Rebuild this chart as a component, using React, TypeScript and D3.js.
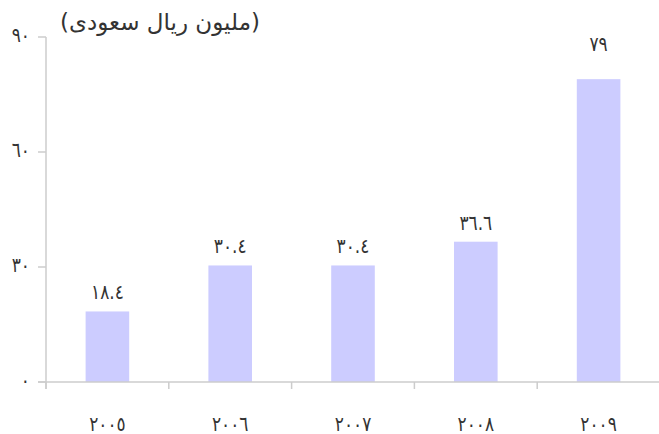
import React from "react";
import * as d3 from "d3";

const years = ["٢٠٠٥", "٢٠٠٦", "٢٠٠٧", "٢٠٠٨", "٢٠٠٩"];
const values = [18.4, 30.4, 30.4, 36.6, 79];
const valueLabels = ["١٨.٤", "٣٠.٤", "٣٠.٤", "٣٦.٦", "٧٩"];
const yTicks = [0, 30, 60, 90];
const yTickLabels = ["٠", "٣٠", "٦٠", "٩٠"];
const unitTitle = "(مليون ريال سعودى)";

const W = 659;
const H = 434;
const left = 46;
const right = 660;
const top = 37;
const bottom = 382;
const FONT = "'DejaVu Sans', sans-serif";
const AXIS = "#cccccc";
const TEXT = "#333333";
const SY = 1.2;

function Label({ x, y, anchor, size, children }: any) {
  return (
    <text
      transform={`translate(${x},${y}) scale(1,${SY})`}
      textAnchor={anchor}
      fontFamily={FONT}
      fontSize={size}
      fill={TEXT}
    >
      {children}
    </text>
  );
}

export default function App() {
  const x = d3.scaleBand<string>().domain(years).range([left, right]).padding(0);
  const y = d3.scaleLinear().domain([0, 90]).range([bottom, top]);
  const bw = x.bandwidth() * 0.355;
  const boundaries = years.map((yr) => x(yr) as number);

  return (
    <svg width={W} height={H} style={{ position: "absolute", left: 0, top: 0 }}>
      <rect width={W} height={H} fill="#ffffff" />
      <text x={60} y={30} fontFamily={FONT} fontSize={23} fill={TEXT} direction="ltr">
        {unitTitle}
      </text>
      {values.map((v, i) => (
        <rect
          key={i}
          x={(x(years[i]) as number) + x.bandwidth() / 2 - bw / 2}
          y={y(v)}
          width={bw}
          height={y(0) - y(v)}
          fill="#ccccff"
        />
      ))}
      {values.map((v, i) => (
        <Label
          key={"l" + i}
          x={(x(years[i]) as number) + x.bandwidth() / 2}
          y={y(v) - (i === values.length - 1 ? 28 : 12)}
          anchor="middle"
          size={17}
        >
          {valueLabels[i]}
        </Label>
      ))}
      <line x1={left} x2={left} y1={top} y2={bottom + 7} stroke={AXIS} strokeWidth={1.5} />
      <line x1={38} x2={W} y1={y(0)} y2={y(0)} stroke={AXIS} strokeWidth={1.5} />
      {yTicks.map((t, i) => (
        <g key={"yt" + i}>
          <line x1={38} x2={left} y1={y(t)} y2={y(t)} stroke={AXIS} strokeWidth={1.5} />
          <Label x={30} y={y(t) + 5} anchor="end" size={17}>
            {yTickLabels[i]}
          </Label>
        </g>
      ))}
      {boundaries.map((b, i) => (
        <line key={"xt" + i} x1={b} x2={b} y1={bottom} y2={bottom + 7} stroke={AXIS} strokeWidth={1.5} />
      ))}
      {years.map((yr, i) => (
        <Label key={"xl" + i} x={(x(yr) as number) + x.bandwidth() / 2} y={431} anchor="middle" size={17}>
          {yr}
        </Label>
      ))}
    </svg>
  );
}
